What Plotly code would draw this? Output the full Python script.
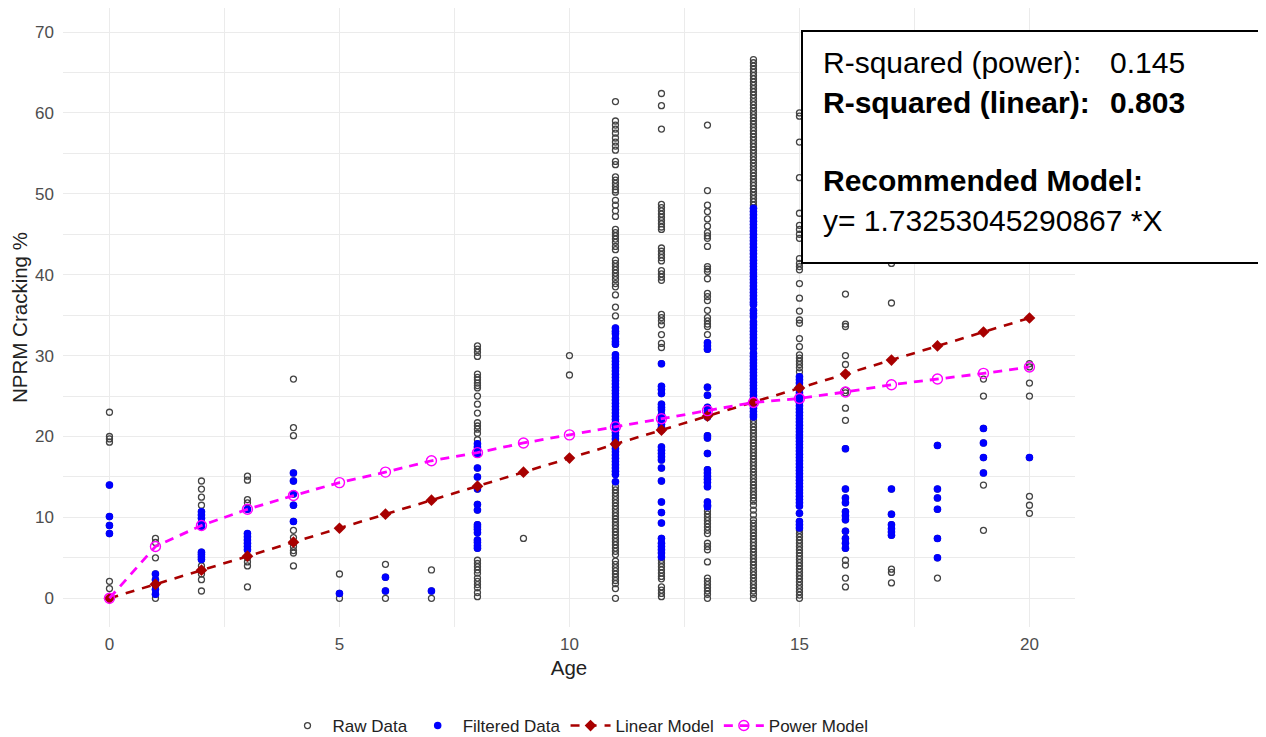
import plotly.graph_objects as go

# ---------------- data ----------------
ages = list(range(21))

raw_00 = [23.0, 20.0, 19.7, 19.3, 2.1, 1.2, 0.0]
flt_00 = [14.0, 10.1, 9.0, 8.0]
raw_01 = [7.4, 6.9, 5.0, 0.0]
flt_01 = [3.0, 2.3, 1.7, 1.1, 0.5]
raw_02 = [14.5, 13.5, 12.5, 11.5, 4.0, 3.5, 3.0, 2.3, 0.9]
flt_02 = [10.7, 10.3, 9.9, 9.3, 8.9, 5.7, 5.4, 5.1, 4.8]
raw_03 = [15.1, 14.6, 12.2, 11.8, 5.0, 4.5, 4.0, 1.4]
flt_03 = [11.0, 8.0, 7.6, 7.2, 6.8, 6.4, 6.0]
raw_04 = [27.1, 21.1, 20.1, 8.4, 7.5, 6.9, 6.4, 5.9, 5.6, 4.0]
flt_04 = [15.5, 14.5, 12.9, 11.5, 9.5]
raw_05 = [3.0, 0.0]
flt_05 = [0.6]
raw_06 = [4.2, 0.0]
flt_06 = [2.6, 0.9]
raw_07 = [3.5, 0.0]
flt_07 = [0.9]
raw_08 = [31.2, 30.8, 30.4, 29.9, 27.7, 27.3, 27.0, 26.6, 26.3, 26.0, 25.0, 24.0,
          22.9, 21.7, 21.3, 20.9, 20.4, 19.6, 4.7, 4.3, 3.9, 3.5, 3.1, 2.5, 2.1,
          1.7, 1.3, 0.7, 0.2]
flt_08 = [19.1, 18.7, 18.2, 17.8, 16.1, 15.0, 13.5, 11.6, 10.9, 9.1, 8.8, 8.5,
          8.1, 7.2, 6.9, 6.5, 6.2]
raw_09 = [7.4]
flt_09 = []
raw_10 = [30.0, 27.6]
flt_10 = []
raw_11 = [61.4, 59.0, 58.5, 58.0, 57.5, 56.9, 56.4, 55.9, 55.4, 54.0, 53.6, 52.1,
          51.7, 51.3, 50.9, 50.5, 50.2, 49.2, 48.6, 47.9, 47.2, 45.6, 45.2, 44.8,
          44.4, 44.0, 43.5, 43.1, 41.8, 41.4, 41.0, 40.6, 40.2, 39.8, 39.4, 38.9,
          38.5, 37.5, 36.0, 34.9,
          13.8, 13.4, 13.0, 12.6, 12.2, 11.8, 11.4, 11.0, 10.6, 10.2, 9.8, 9.4,
          9.0, 8.6, 8.2, 7.8, 7.4, 7.0, 6.6, 6.2, 5.8, 5.4, 4.6, 4.2, 3.8, 3.4,
          3.0, 2.6, 2.2, 1.8, 1.2, 0.0]
flt_11 = [33.4, 33.0, 32.7, 32.1, 31.7, 31.4, 30.1, 29.7, 29.3, 28.9, 28.5, 28.1,
          27.7, 27.3, 26.9, 26.5, 26.1, 25.7, 25.3, 24.9, 24.5, 24.1, 23.7, 23.3,
          22.9, 22.5, 22.1, 21.7, 21.3, 20.9, 20.5, 20.1, 19.7, 19.3, 18.9, 18.5,
          18.1, 17.7, 17.3, 16.9, 16.5, 16.1, 15.7, 15.3, 14.4]
raw_12 = [62.4, 60.9, 58.0, 48.7, 48.3, 47.9, 47.5, 47.1, 46.7, 46.3, 45.9, 45.6,
          43.3, 42.9, 42.5, 42.1, 41.7, 40.5, 40.1, 39.7, 39.3, 35.1, 34.7, 34.3,
          33.8, 32.6, 31.5, 31.0, 4.7, 4.3, 3.9, 3.5, 3.1, 2.7, 2.4, 1.4, 1.0,
          0.6, 0.2]
flt_12 = [29.0, 26.2, 25.8, 25.3, 24.0, 23.6, 23.3, 22.7, 22.3, 21.9, 21.5, 21.1,
          20.8, 18.7, 18.3, 17.9, 17.5, 17.1, 16.1, 14.5, 11.9, 10.6, 9.3, 7.4,
          6.8, 6.4, 6.0, 5.6, 5.1]
raw_13 = [58.5, 50.4, 48.6, 47.8, 46.9, 46.0, 45.2, 44.8, 44.5, 43.5, 41.0, 40.7,
          40.4, 39.5, 37.7, 37.3, 36.8, 35.6, 34.7, 34.3, 33.9, 33.6, 32.6, 10.8,
          10.4, 10.0, 9.6, 9.2, 8.8, 8.4, 8.0, 6.8, 6.4, 6.0, 4.5, 2.5, 2.1, 1.7,
          1.3, 0.9, 0.5, 0.0]
flt_13 = [31.6, 31.2, 30.8, 26.1, 25.1, 23.6, 23.2, 22.8, 22.4, 20.1, 19.8, 17.9,
          15.9, 15.5, 15.1, 14.7, 14.3, 13.8, 11.9, 11.5, 11.3]
raw_14 = [66.6, 66.2, 65.8, 65.4, 65.0, 64.6, 64.2, 63.8, 63.4, 63.0, 62.6, 62.2,
          61.8, 61.4, 61.0, 60.6, 60.2, 59.8, 59.4, 59.0, 58.6, 58.2, 57.8, 57.4,
          57.0, 56.6, 56.2, 55.8, 55.4, 55.0, 54.6, 54.2, 53.8, 53.4, 53.0, 52.6,
          52.2, 51.8, 51.4, 51.0, 50.6, 50.2, 49.8, 49.4, 49.0, 48.6,
          22.0, 21.6, 21.2, 20.8, 20.4, 20.0, 19.6, 19.2, 18.8, 18.4, 18.0, 17.6,
          17.2, 16.8, 16.4, 16.0, 15.6, 15.2, 14.8, 14.4, 14.0, 13.6, 13.2, 12.8,
          12.4, 12.0, 11.5, 10.9, 10.3, 9.7, 9.3, 8.9, 8.5, 8.1, 7.7, 7.3, 6.9,
          6.5, 6.1, 5.7, 5.3, 4.9, 4.5, 4.1, 3.7, 3.3, 2.9, 2.5, 2.1, 1.7, 1.3,
          0.9, 0.5, 0.0]
flt_14 = [48.2, 47.8, 47.4, 47.0, 46.6, 46.2, 45.8, 45.4, 45.0, 44.6, 44.2, 43.8,
          43.4, 43.0, 42.6, 42.2, 41.8, 41.4, 41.0, 40.6, 40.2, 39.8, 39.4, 39.0,
          38.6, 38.2, 37.8, 37.4, 37.0, 36.6, 36.3, 35.6, 35.2, 34.8, 34.2, 33.8,
          33.4, 33.0, 32.6, 32.2, 31.8, 31.4, 30.9, 30.3, 29.9, 29.5, 29.1, 28.7,
          28.3, 27.9, 27.5, 27.1, 26.7, 26.3, 25.9, 25.5, 25.1, 24.7, 24.3, 23.9,
          23.5, 23.1, 22.7, 22.4]
raw_15 = [60.0, 59.6, 56.4, 52.0, 47.6, 46.1, 45.6, 45.0, 44.5, 42.0, 41.4, 41.0,
          40.6, 38.9, 37.1, 35.5, 34.4, 34.0, 32.1, 31.1, 30.1, 29.7, 29.3, 28.9,
          28.5, 28.0, 8.4, 8.0, 7.6, 7.2, 6.8, 6.4, 6.0, 5.6, 5.2, 4.8, 4.4, 4.0,
          3.6, 3.2, 2.8, 2.4, 2.0, 1.6, 1.2, 0.8, 0.4, 0.0]
flt_15 = [27.4, 27.0, 26.6, 26.2, 25.8, 25.4, 25.0, 24.6, 24.2, 23.8, 23.4, 23.0,
          22.6, 22.2, 21.8, 21.4, 21.0, 20.6, 20.2, 19.8, 19.4, 19.0, 18.6, 18.2,
          17.8, 17.4, 17.0, 16.6, 16.2, 15.8, 15.4, 15.0, 14.6, 14.2, 13.8, 13.4,
          13.0, 12.6, 12.2, 11.8, 11.4, 10.5, 9.5, 9.1, 8.7]
raw_16 = [37.6, 33.9, 33.6, 30.0, 28.9, 25.7, 25.4, 23.5, 22.0, 4.7, 4.1, 2.5, 1.4]
flt_16 = [18.5, 13.5, 12.4, 11.8, 10.7, 10.2, 9.7, 8.3, 7.4, 6.8, 6.2]
raw_17 = [41.4, 36.5, 3.6, 3.2, 1.9]
flt_17 = [13.5, 10.4, 9.1, 8.6, 8.2, 7.8]
raw_18 = [2.5]
flt_18 = [18.9, 13.5, 12.4, 11.0, 7.4, 5.0]
raw_19 = [27.1, 25.0, 14.0, 8.4]
flt_19 = [21.0, 19.2, 17.4, 15.5]
raw_20 = [29.0, 28.6, 26.6, 25.0, 12.6, 11.5, 10.5]
flt_20 = [17.4]

linear_model = [0.0, 1.73, 3.47, 5.20, 6.93, 8.66, 10.40, 12.13, 13.86, 15.59, 17.33,
                19.06, 20.79, 22.52, 24.26, 25.99, 27.72, 29.45, 31.19, 32.92, 34.65]
power_model = [0.0, 6.4, 9.0, 11.0, 12.7, 14.3, 15.6, 17.0, 18.0, 19.2, 20.2,
               21.2, 22.2, 23.2, 24.2, 24.7, 25.5, 26.4, 27.1, 27.8, 28.6]

box_labels = ["R-squared (power):", "R-squared (linear):", "Recommended Model:",
              "y= 1.73253045290867 *X"]
box_values = ["0.145", "0.803"]

x_title = "Age"
y_title = "NPRM Cracking %"
legend_names = ["Raw Data", "Filtered Data", "Linear Model", "Power Model"]

# ---------------- assemble ----------------
raw_lists = [raw_00, raw_01, raw_02, raw_03, raw_04, raw_05, raw_06, raw_07, raw_08,
             raw_09, raw_10, raw_11, raw_12, raw_13, raw_14, raw_15, raw_16, raw_17,
             raw_18, raw_19, raw_20]
flt_lists = [flt_00, flt_01, flt_02, flt_03, flt_04, flt_05, flt_06, flt_07, flt_08,
             flt_09, flt_10, flt_11, flt_12, flt_13, flt_14, flt_15, flt_16, flt_17,
             flt_18, flt_19, flt_20]

raw_x, raw_y, flt_x, flt_y = [], [], [], []
for a, r, f in zip(ages, raw_lists, flt_lists):
    vals = r + f          # raw data contains every record
    raw_x += [a] * len(vals)
    raw_y += vals
    flt_x += [a] * len(f)
    flt_y += f

FONT = "Liberation Sans, Arial, sans-serif"

fig = go.Figure()
fig.add_trace(go.Scatter(
    x=raw_x, y=raw_y, mode="markers", name=legend_names[0],
    marker=dict(symbol="circle-open", size=6, color="#444444",
                line=dict(width=1.3, color="#444444"))))
fig.add_trace(go.Scatter(
    x=flt_x, y=flt_y, mode="markers", name=legend_names[1],
    marker=dict(symbol="circle", size=7.5, color="#0000FF")))
fig.add_trace(go.Scatter(
    x=ages, y=linear_model, mode="lines+markers", name=legend_names[2],
    line=dict(color="#A80000", width=2.6, dash="9px,8px"),
    marker=dict(symbol="diamond", size=9, color="#A80000")))
fig.add_trace(go.Scatter(
    x=ages, y=power_model, mode="lines+markers", name=legend_names[3],
    line=dict(color="#FF00FF", width=2.8, dash="9px,7px"),
    marker=dict(symbol="circle-open", size=10, color="#FF00FF",
                line=dict(width=1.4, color="#FF00FF"))))

# page (browser) layout: the page body has an 8px margin, so the figure is
# sized/placed so that the plot panel lands at page x 63..1075, y 8..627
OFF = 8
W, H = 1266 - OFF, 737 - OFF
L, R, T, B = 63 - OFF, 191, 0, H - (627 - OFF)
PW, PH = W - L - R, H - T - B


def px(page_x):
    return (page_x - OFF - L) / PW


def py(page_y):
    return (H - B - (page_y - OFF)) / PH


fig.add_shape(type="rect", xref="paper", yref="paper",
              x0=px(802), x1=px(1264), y0=py(263), y1=py(31),
              line=dict(color="black", width=2), fillcolor="white", layer="above")

ann_font = dict(family=FONT, size=30, color="black")
rows_y = [63, 102, 180, 220]
for i, (txt, yy) in enumerate(zip(box_labels, rows_y)):
    t = txt if i in (0, 3) else "<b>" + txt + "</b>"
    fig.add_annotation(xref="paper", yref="paper", x=px(821), y=py(yy), text=t,
                       showarrow=False, xanchor="left", yanchor="middle", font=ann_font)
for i, (v, yy) in enumerate(zip(box_values, rows_y[:2])):
    t = v if i == 0 else "<b>" + v + "</b>"
    fig.add_annotation(xref="paper", yref="paper", x=px(1108), y=py(yy), text=t,
                       showarrow=False, xanchor="left", yanchor="middle", font=ann_font)

grid = "#EBEBEB"
fig.update_layout(
    width=W, height=H, margin=dict(l=L, r=R, t=T, b=B, autoexpand=False),
    paper_bgcolor="white", plot_bgcolor="white",
    font=dict(family=FONT, size=16, color="#222222"),
    showlegend=True,
    legend=dict(orientation="h", x=px(578), xanchor="center", y=py(726),
                yanchor="middle", font=dict(size=17, color="#222222"),
                itemwidth=40, tracegroupgap=0),
    xaxis=dict(range=[-1.01, 20.99], tickvals=[0, 5, 10, 15, 20], showgrid=True,
               gridcolor=grid, gridwidth=1.2, zeroline=False, showline=False,
               ticks="", ticklabelstandoff=5, automargin=False,
               tickfont=dict(size=17, color="#4D4D4D"),
               minor=dict(dtick=2.5, showgrid=True, gridcolor=grid, gridwidth=0.8),
               title=dict(text=x_title, font=dict(size=20.5, color="#222222"), standoff=7)),
    yaxis=dict(range=[-3.55, 72.97], tickvals=[0, 10, 20, 30, 40, 50, 60, 70],
               showgrid=True, gridcolor=grid, gridwidth=1.2, zeroline=False,
               showline=False, ticks="", ticklabelstandoff=8, automargin=False,
               tickfont=dict(size=17, color="#4D4D4D"),
               minor=dict(dtick=5, showgrid=True, gridcolor=grid, gridwidth=0.8),
               title=dict(text=y_title, font=dict(size=20.5, color="#222222"), standoff=3)),
)

fig.write_html("out.html")
